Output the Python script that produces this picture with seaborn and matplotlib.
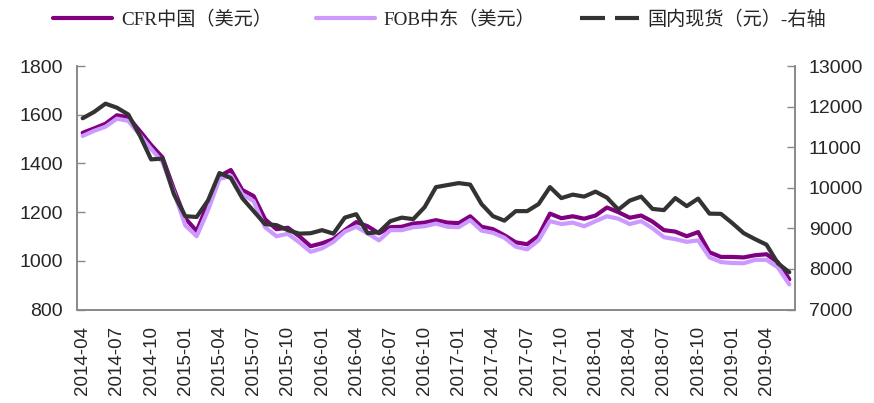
import numpy as np
import pandas as pd
import matplotlib
matplotlib.use("Agg")
import matplotlib.pyplot as plt
import seaborn as sns
from matplotlib.lines import Line2D
from matplotlib.ticker import FixedLocator, NullFormatter
from matplotlib.font_manager import FontProperties

# Monthly categories, 2014-04 .. 2019-06
months = [p.strftime("%Y-%m") for p in pd.period_range("2014-04", "2019-06", freq="M")]

# CFR China (USD/t)
cfr_china = [1526, 1544, 1563, 1598, 1590, 1534, 1476, 1425, 1295, 1175,
             1122, 1237, 1348, 1373, 1291, 1266, 1171, 1130, 1136, 1101,
             1060, 1072, 1089, 1126, 1159, 1142, 1113, 1138, 1140, 1153,
             1157, 1167, 1157, 1155, 1183, 1140, 1130, 1105, 1076, 1068,
             1103, 1194, 1175, 1183, 1173, 1186, 1219, 1200, 1177, 1186,
             1161, 1126, 1120, 1101, 1118, 1035, 1016, 1016, 1014, 1023,
             1027, 994, 924]

# FOB Middle East (USD/t)
fob_me = [1513, 1534, 1551, 1584, 1575, 1518, 1460, 1406, 1282, 1146,
          1101, 1208, 1336, 1350, 1274, 1245, 1138, 1101, 1111, 1076,
          1037, 1051, 1078, 1120, 1140, 1113, 1084, 1126, 1126, 1138,
          1142, 1153, 1140, 1138, 1167, 1124, 1115, 1095, 1058, 1047,
          1084, 1163, 1151, 1157, 1142, 1163, 1183, 1173, 1151, 1163,
          1134, 1097, 1089, 1078, 1084, 1014, 995, 991, 990, 1004,
          1004, 973, 903]

# Domestic spot price (CNY/t), right axis
domestic = [11714, 11870, 12074, 11975, 11807, 11300, 10700, 10720, 9845, 9300,
            9280, 9689, 10363, 10240, 9746, 9425, 9104, 9080, 8956, 8870,
            8880, 8956, 8870, 9265, 9350, 8880, 8906, 9178, 9265, 9227,
            9523, 10017, 10067, 10116, 10079, 9598, 9301, 9190, 9425, 9425,
            9598, 10017, 9746, 9832, 9783, 9906, 9758, 9462, 9684, 9783,
            9479, 9450, 9746, 9548, 9733, 9363, 9358, 9129, 8882, 8734,
            8598, 8140, 7918]

labels = ["CFR中国（美元）", "FOB中东（美元）", "国内现货（元）-右轴"]
colors = ["#800080", "#CC99FF", "#333333"]

sns.set_style("white")
plt.rcParams["font.family"] = ["Liberation Sans", "Noto Sans CJK SC"]

idx = np.arange(len(months))
df = pd.DataFrame({"idx": idx, "cfr": cfr_china, "fob": fob_me, "dom": domestic})

fig = plt.figure(figsize=(8.74, 4.03), dpi=100)
ax = fig.add_axes([0.0881, 0.232, 0.8215, 0.604])
ax2 = ax.twinx()

lw = 3.0
sns.lineplot(data=df, x="idx", y="cfr", ax=ax, color=colors[0], lw=lw)
sns.lineplot(data=df, x="idx", y="fob", ax=ax, color=colors[1], lw=lw)
sns.lineplot(data=df, x="idx", y="dom", ax=ax2, color=colors[2], lw=lw)

spine_c = "#898989"
ax.set_xlim(-0.5, len(months) - 0.5)
ax.set_ylim(800, 1800)
ax.set_yticks(range(800, 1801, 200))
ax2.set_ylim(7000, 13000)
ax2.set_yticks(range(7000, 13001, 1000))

# category boundaries carry the tick marks, labels sit on the categories
ax.xaxis.set_major_locator(FixedLocator(np.arange(-0.5, len(months), 3)))
ax.xaxis.set_major_formatter(NullFormatter())
ax.set_xticks(idx[::3], labels=[months[i] for i in idx[::3]], minor=True)
ax.tick_params(axis="x", which="major", direction="in", length=6, width=1, color=spine_c)
ax.tick_params(axis="x", which="minor", length=0, rotation=90, pad=12, labelsize=13.5)
ax.tick_params(axis="y", direction="in", length=6, width=1, color=spine_c, labelsize=14, pad=10)
ax2.tick_params(axis="y", direction="in", length=6, width=1, color=spine_c, labelsize=14, pad=10)

for a in (ax, ax2):
    a.set_xlabel("")
    a.set_ylabel("")
    a.spines["top"].set_visible(False)
    for s in ("left", "right", "bottom"):
        a.spines[s].set_color(spine_c)
        a.spines[s].set_linewidth(1.2)

handles = [
    Line2D([], [], color=colors[0], lw=3),
    Line2D([], [], color=colors[1], lw=3),
    Line2D([], [], color=colors[2], lw=3, dashes=(6, 2.4)),
]
fig.legend(handles, labels, loc="center", bbox_to_anchor=(0.503, 0.952), ncol=3,
           frameon=False, handlelength=3.1, handletextpad=0.45, columnspacing=2.3,
           prop=FontProperties(family=["Liberation Serif", "Noto Sans CJK SC"], size=13.8))

fig.savefig("out.png", dpi=100)
